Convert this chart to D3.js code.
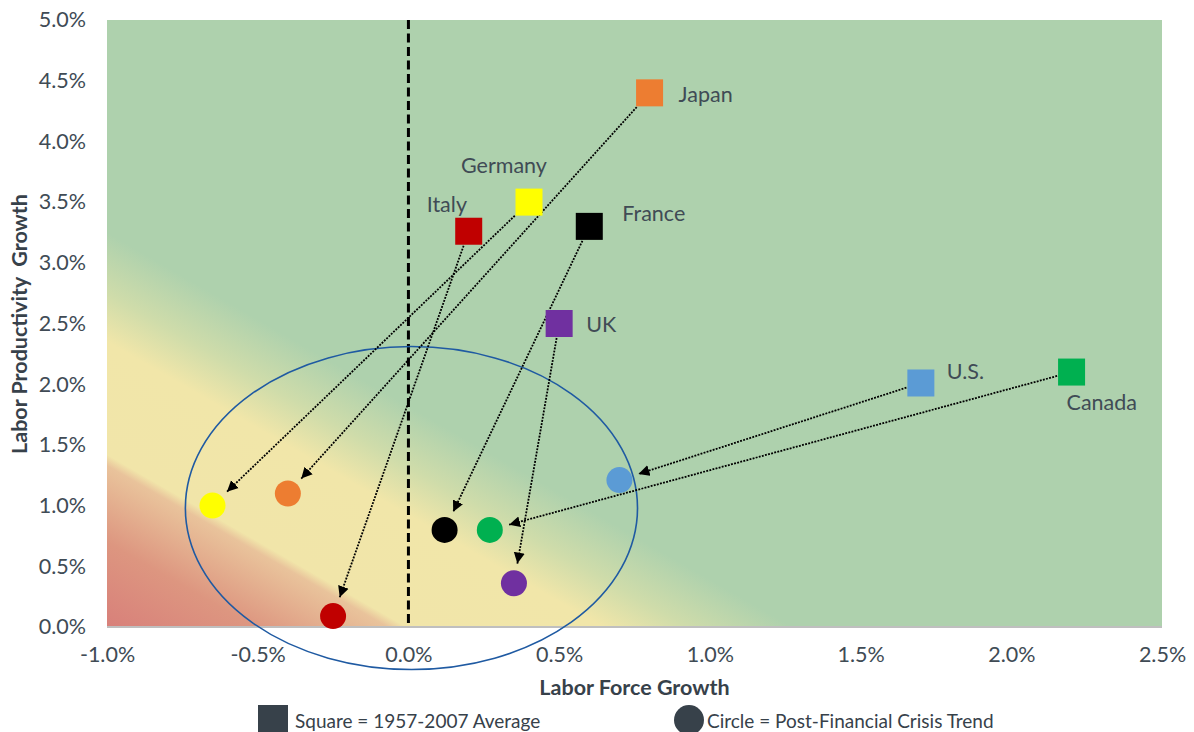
<!DOCTYPE html>
<html>
<head>
<meta charset="utf-8">
<script src="https://cdn.jsdelivr.net/npm/d3@7"></script>
<style>
  html, body { margin: 0; padding: 0; background: #ffffff; }
  svg { display: block; font-family: Lato, "Open Sans", sans-serif; }
</style>
</head>
<body>
<svg id="chart" width="1194" height="732"></svg>
<script>
// ---- data ----
const countries = ["Japan", "Germany", "Italy", "France", "UK", "U.S.", "Canada"];
const countryColors = ["#ed7d31", "#ffff00", "#c00000", "#000000", "#7030a0", "#5b9bd5", "#00b050"];
// 1957-2007 average (squares)
const avgLaborForce = [0.80, 0.40, 0.20, 0.60, 0.50, 1.70, 2.20];
const avgProductivity = [4.40, 3.50, 3.26, 3.30, 2.50, 2.01, 2.10];
// Post-financial crisis trend (circles)
const postLaborForce = [-0.40, -0.65, -0.25, 0.12, 0.35, 0.70, 0.27];
const postProductivity = [1.10, 1.00, 0.09, 0.80, 0.36, 1.21, 0.80];
const xTicks = [-1.0, -0.5, 0.0, 0.5, 1.0, 1.5, 2.0, 2.5];
const yTicks = [0.0, 0.5, 1.0, 1.5, 2.0, 2.5, 3.0, 3.5, 4.0, 4.5, 5.0];
const xTitle = "Labor Force Growth";
const yTitle = "Labor Productivity  Growth";
const legendSquareText = "Square = 1957-2007 Average";
const legendCircleText = "Circle = Post-Financial Crisis Trend";
// highlighted region (data units)
const ellipseCenter = [0.01, 0.98];
const ellipseRadii = [0.75, 1.33];

// ---- layout ----
const plot = { left: 107, right: 1162, top: 20, bottom: 627 };
const labelOffsets = {
  "Japan":   [29, 9],
  "Germany": [-68, -29],
  "Italy":   [-42, -19],
  "France":  [33, -5],
  "UK":      [27, 8],
  "U.S.":    [26, -4],
  "Canada":  [-5, 38]
};
const textColor = "#404b55";
const darkText = "#37414a";
const fontSize = "21.5px";

const svg = d3.select("#chart");
const x = d3.scaleLinear().domain([xTicks[0], xTicks[xTicks.length - 1]]).range([plot.left, plot.right]);
const y = d3.scaleLinear().domain([yTicks[0], yTicks[yTicks.length - 1]]).range([plot.bottom, plot.top]);

// background gradient
const defs = svg.append("defs");
const grad = defs.append("linearGradient").attr("id", "bg")
  .attr("x1", 0).attr("y1", 1).attr("x2", 1).attr("y2", 0);
[[0, "#d8807a"], [0.07, "#dd9680"], [0.133, "#e9c39b"], [0.142, "#f1e5a9"],
 [0.235, "#f1e6a9"], [0.275, "#cfdcaa"], [0.325, "#aed1ad"], [1, "#aed1ad"]]
  .forEach(([o, c]) => grad.append("stop").attr("offset", o).attr("stop-color", c));

defs.append("marker").attr("id", "arrow")
  .attr("viewBox", "0 -6 12 12").attr("refX", 11).attr("refY", 0)
  .attr("markerWidth", 12).attr("markerHeight", 12)
  .attr("markerUnits", "userSpaceOnUse").attr("orient", "auto")
  .append("path").attr("d", "M0,-5.5L11,0L0,5.5Z").attr("fill", "#000");

svg.append("rect")
  .attr("x", plot.left).attr("y", plot.top)
  .attr("width", plot.right - plot.left).attr("height", plot.bottom - plot.top)
  .attr("fill", "url(#bg)");

// x axis
const xAxis = svg.append("g").attr("transform", `translate(0,${plot.bottom})`)
  .call(d3.axisBottom(x).tickValues(xTicks).tickSize(0).tickPadding(19.5).tickFormat(d => d.toFixed(1) + "%"));
xAxis.select(".domain").remove();
xAxis.selectAll("text").attr("fill", textColor).style("font-size", fontSize).style("font-family", "Lato");

svg.append("line")
  .attr("x1", plot.left).attr("x2", plot.right)
  .attr("y1", y(0)).attr("y2", y(0))
  .attr("stroke", "#bfbfbf").attr("stroke-width", 2.2);

// y axis
const yAxis = svg.append("g").attr("transform", `translate(${plot.left},0)`)
  .call(d3.axisLeft(y).tickValues(yTicks).tickSize(0).tickPadding(21).tickFormat(d => d.toFixed(1) + "%"));
yAxis.select(".domain").remove();
yAxis.selectAll("text").attr("fill", textColor).style("font-size", fontSize).style("font-family", "Lato");

// zero dashed line
svg.append("line")
  .attr("x1", x(0)).attr("x2", x(0))
  .attr("y1", plot.top).attr("y2", plot.bottom)
  .attr("stroke", "#000").attr("stroke-width", 3).attr("stroke-dasharray", "9,4.5");

// ellipse
svg.append("ellipse")
  .attr("cx", x(ellipseCenter[0])).attr("cy", y(ellipseCenter[1]))
  .attr("rx", x(ellipseRadii[0]) - x(0)).attr("ry", y(0) - y(ellipseRadii[1]))
  .attr("fill", "none").attr("stroke", "#1f5aa2").attr("stroke-width", 1.6);

const rows = countries.map((c, i) => ({
  name: c, color: countryColors[i],
  x0: avgLaborForce[i], y0: avgProductivity[i],
  x1: postLaborForce[i], y1: postProductivity[i]
}));

const sq = 27, cr = 13;
// arrows
svg.append("g").selectAll("line").data(rows).join("line")
  .each(function (d) {
    const sx = x(d.x0), sy = y(d.y0), ex = x(d.x1), ey = y(d.y1);
    const dx = ex - sx, dy = ey - sy, len = Math.hypot(dx, dy);
    const ux = dx / len, uy = dy / len;
    const startGap = (sq / 2) / Math.max(Math.abs(ux), Math.abs(uy)) + 1;
    const endGap = 20;
    d3.select(this)
      .attr("x1", sx + ux * startGap).attr("y1", sy + uy * startGap)
      .attr("x2", ex - ux * endGap).attr("y2", ey - uy * endGap);
  })
  .attr("stroke", "#000").attr("stroke-width", 1.8)
  .attr("stroke-dasharray", "1.9,1.3")
  .attr("marker-end", "url(#arrow)");

// squares
svg.append("g").selectAll("rect").data(rows).join("rect")
  .attr("x", d => x(d.x0) - sq / 2).attr("y", d => y(d.y0) - sq / 2)
  .attr("width", sq).attr("height", sq).attr("fill", d => d.color);

// circles
svg.append("g").selectAll("circle").data(rows).join("circle")
  .attr("cx", d => x(d.x1)).attr("cy", d => y(d.y1))
  .attr("r", cr).attr("fill", d => d.color);

// labels
svg.append("g").selectAll("text").data(rows).join("text")
  .attr("x", d => x(d.x0) + labelOffsets[d.name][0])
  .attr("y", d => y(d.y0) + labelOffsets[d.name][1])
  .attr("fill", textColor).style("font-size", fontSize)
  .text(d => d.name);

// axis titles
svg.append("text")
  .attr("x", (plot.left + plot.right) / 2).attr("y", 695)
  .attr("text-anchor", "middle").attr("fill", darkText)
  .style("font-size", fontSize).style("font-weight", "bold")
  .text(xTitle);

svg.append("text")
  .attr("transform", `translate(27,324) rotate(-90)`)
  .attr("text-anchor", "middle").attr("fill", darkText)
  .style("font-size", fontSize).style("font-weight", "bold").style("white-space", "pre")
  .text(yTitle);

// legend
svg.append("rect").attr("x", 258).attr("y", 705).attr("width", 30).attr("height", 30).attr("fill", darkText);
svg.append("text").attr("x", 295).attr("y", 728).attr("fill", darkText).style("font-size", "19px").text(legendSquareText);
svg.append("circle").attr("cx", 689).attr("cy", 720).attr("r", 15).attr("fill", darkText);
svg.append("text").attr("x", 707).attr("y", 728).attr("fill", darkText).style("font-size", "19px").text(legendCircleText);
</script>
</body>
</html>
